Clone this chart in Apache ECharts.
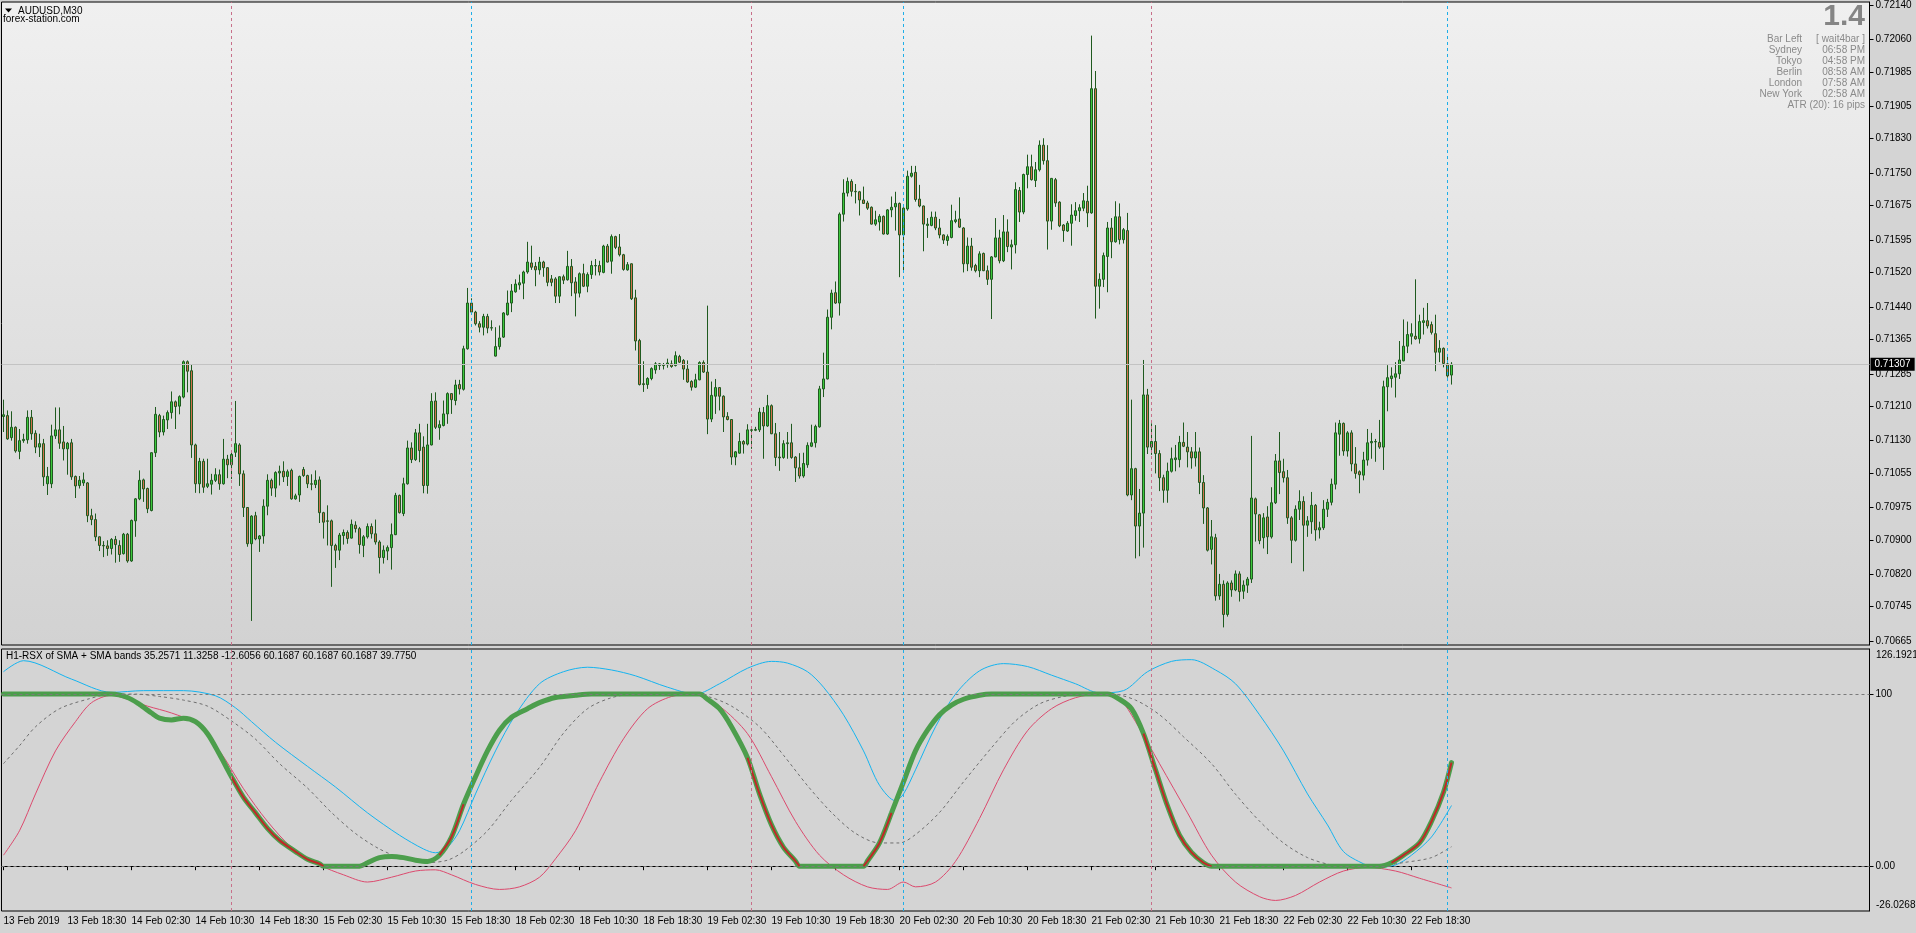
<!DOCTYPE html>
<html><head><meta charset="utf-8">
<script src="https://cdn.jsdelivr.net/npm/echarts@6/dist/echarts.min.js"></script>
<style>html,body{margin:0;padding:0;background:#d4d4d4;overflow:hidden}#chart{width:1916px;height:933px}</style>
</head><body><div id="chart"></div>
<script>
// ---- price data, in points (1 point = 0.00001) ----
const opens = [71186,71188,71137,71161,71105,71130,71132,71184,71147,71115,
71123,71030,71030,71141,71155,71127,71111,71125,71047,71026,
71032,71032,70956,70947,70907,70887,70886,70880,70901,70887,
70868,70913,70851,70944,70995,71039,71019,70968,71102,71188,
71150,71178,71195,71220,71210,71231,71313,71292,71120,71030,
71082,71024,71029,71038,71051,71030,71087,71074,71103,71120,
71053,70975,70891,70956,70902,70909,70978,71038,71020,71055,
71059,71047,71061,70995,71004,71063,71049,71030,71028,71039,
70963,70944,70944,70887,70876,70910,70917,70904,70934,70926,
70887,70907,70931,70914,70895,70859,70874,70882,70912,71003,
70961,71030,71113,71086,71148,71115,71026,71120,71222,71160,
71165,71192,71239,71223,71260,71249,71343,71449,71428,71401,
71393,71418,71391,71326,71348,71370,71422,71449,71475,71491,
71495,71521,71542,71534,71526,71544,71531,71505,71505,71465,
71510,71503,71534,71498,71472,71517,71488,71515,71535,71536,
71520,71581,71546,71603,71579,71561,71526,71540,71461,71362,
71262,71260,71274,71294,71304,71306,71306,71308,71304,71325,
71316,71296,71267,71254,71271,71311,71289,71180,71233,71253,
71233,71186,71179,71092,71101,71128,71122,71155,71154,71155,
71195,71164,71211,71146,71092,71091,71123,71125,71092,71067,
71048,71074,71117,71125,71162,71250,71273,71416,71473,71449,
71655,71704,71731,71708,71707,71688,71681,71671,71632,71637,
71650,71609,71665,71672,71680,71607,71667,71743,71752,71690,
71674,71629,71629,71648,71623,71607,71594,71601,71638,71644,
71623,71540,71581,71536,71524,71564,71524,71504,71556,71600,
71547,71614,71579,71584,71710,71660,71747,71765,71733,71758,
71815,71779,71639,71735,71683,71630,71616,71634,71652,71663,
71669,71685,71658,71946,71488,71504,71557,71623,71591,71649,
71596,71617,71004,71065,70932,70962,71236,71115,71128,71100,
71044,71015,71059,71086,71086,71126,71115,71104,71090,71104,
71033,70974,70878,70905,70770,70797,70727,70800,70784,70821,
70781,70795,70809,70995,70958,70905,70953,70907,70986,71083,
71058,71044,70951,70899,70971,70989,70934,70942,70980,70923,
70928,70971,70987,71029,71145,71170,71106,71148,71076,71058,
71050,71085,71125,71127,71126,71115,71255,71274,71277,71285,
71315,71349,71372,71372,71366,71404,71408,71399,71378,71335,
71344,71308,71282];
const highs = [71225,71200,71198,71163,71157,71146,71200,71201,71154,71146,
71134,71069,71167,71207,71207,71164,71127,71134,71049,71048,
71056,71034,70972,70961,70908,70897,70899,70904,70909,70899,
70916,70916,70947,70997,71061,71042,71021,71103,71208,71192,
71188,71200,71244,71223,71235,71316,71316,71306,71123,71090,
71088,71088,71053,71066,71063,71134,71097,71106,71222,71124,
71061,70976,70957,70965,70911,70994,71052,71042,71059,71072,
71082,71063,71065,71007,71049,71069,71051,71052,71061,71047,
70965,70980,70947,70891,70916,70924,70922,70947,70943,70930,
70911,70938,70938,70947,70899,70887,70887,70938,71009,71005,
71044,71130,71126,71157,71169,71140,71169,71240,71242,71177,
71223,71242,71240,71271,71271,71350,71484,71460,71431,71407,
71424,71424,71409,71393,71397,71428,71478,71493,71504,71515,
71524,71591,71582,71544,71556,71547,71532,71514,71509,71511,
71515,71570,71551,71509,71520,71540,71520,71547,71551,71547,
71584,71586,71608,71605,71609,71563,71544,71541,71480,71366,
71314,71277,71300,71312,71310,71310,71320,71316,71337,71329,
71319,71316,71270,71285,71314,71316,71443,71267,71273,71254,
71235,71196,71180,71106,71148,71131,71168,71162,71162,71206,
71208,71236,71214,71171,71150,71131,71150,71169,71094,71101,
71102,71126,71167,71167,71257,71334,71434,71480,71499,71659,
71736,71740,71736,71725,71709,71719,71686,71673,71663,71655,
71652,71667,71696,71707,71682,71671,71756,71767,71767,71723,
71675,71646,71661,71661,71644,71608,71608,71677,71663,71694,
71625,71601,71600,71540,71569,71566,71536,71558,71646,71619,
71653,71643,71596,71729,71718,71749,71793,71793,71776,71826,
71831,71815,71739,71739,71685,71632,71639,71678,71683,71678,
71704,71721,72069,71987,71518,71566,71637,71646,71685,71680,
71623,71658,71225,71067,71018,71317,71250,71170,71166,71108,
71051,71079,71114,71120,71141,71172,71150,71115,71150,71114,
71050,70976,70946,70914,70821,70806,70804,70806,70829,70827,
70806,70814,71141,70998,70960,70962,70978,71022,71099,71150,
71088,71062,70955,70980,71015,71001,70955,71011,70983,70942,
70992,70995,71042,71172,71178,71172,71152,71154,71115,71061,
71104,71157,71148,71134,71178,71269,71305,71300,71312,71361,
71411,71406,71402,71504,71422,71438,71449,71406,71422,71363,
71346,71331,71312];
const lows = [71150,71132,71130,71102,71087,71125,71123,71132,71101,71092,
71025,71004,71020,71134,71111,71084,71051,71039,70997,71019,
71025,70941,70934,70897,70874,70860,70863,70866,70847,70849,
70866,70847,70849,70907,70992,70988,70962,70966,71092,71138,
71142,71157,71181,71157,71191,71228,71242,71090,71009,71008,
71009,71020,71005,71034,71016,71028,71043,71041,71092,71025,
70953,70884,70712,70899,70872,70891,70957,71002,70999,71026,
71034,71025,70993,70993,70988,71046,71020,71015,71020,70939,
70903,70887,70791,70835,70853,70889,70891,70903,70917,70868,
70860,70903,70903,70889,70822,70845,70853,70831,70911,70961,
70955,71028,71078,71083,71080,71008,71007,71119,71157,71132,
71163,71169,71192,71212,71237,71246,71341,71424,71397,71381,
71374,71379,71385,71325,71341,71368,71420,71428,71473,71480,
71458,71517,71526,71488,71515,71510,71488,71488,71449,71449,
71493,71501,71465,71418,71462,71486,71474,71505,71513,71513,
71518,71543,71517,71574,71557,71524,71524,71456,71339,71258,
71243,71250,71270,71285,71294,71295,71299,71299,71302,71310,
71271,71264,71246,71252,71270,71287,71145,71173,71192,71200,
71150,71177,71074,71073,71100,71100,71119,71111,71152,71150,
71088,71162,71145,71071,71060,71088,71088,71088,71034,71042,
71044,71067,71115,71114,71160,71231,71272,71388,71447,71420,
71638,71696,71696,71680,71652,71679,71665,71631,71628,71617,
71608,71607,71648,71617,71509,71524,71663,71740,71684,71671,
71569,71600,71627,71618,71599,71586,71582,71599,71634,71623,
71520,71523,71524,71520,71509,71523,71491,71412,71555,71541,
71544,71567,71527,71564,71637,71655,71715,71733,71718,71754,
71770,71573,71619,71672,71625,71591,71614,71582,71640,71637,
71662,71625,71656,71413,71436,71486,71474,71553,71589,71585,
71587,71001,70992,70857,70862,70882,71099,71097,71054,71013,
70986,70986,71056,71059,71068,71115,71068,71065,71070,71006,
70937,70873,70843,70759,70761,70697,70722,70768,70781,70757,
70763,70777,70800,70896,70890,70880,70867,70903,70983,71006,
71033,70937,70846,70896,70946,70827,70907,70914,70898,70903,
70923,70953,70980,71017,71095,71095,71093,71059,71042,71008,
71038,71072,71088,71081,71111,71062,71198,71253,71230,71273,
71314,71333,71353,71364,71355,71376,71390,71376,71291,71312,
71300,71276,71260];
const closes = [71190,71134,71161,71106,71130,71133,71184,71146,71115,71123,
71046,71047,71141,71155,71124,71111,71124,71046,71025,71038,
71039,70956,70947,70907,70887,70886,70880,70901,70889,70866,
70913,70851,70945,70995,71038,71018,70972,71102,71191,71150,
71179,71195,71220,71209,71232,71313,71291,71120,71030,71082,
71022,71030,71038,71051,71030,71087,71074,71098,71123,71053,
70975,70891,70955,70902,70909,70978,71038,71020,71056,71059,
71046,71058,70995,71002,71047,71049,71030,71029,71038,70963,
70941,70943,70887,70876,70911,70917,70903,70936,70926,70889,
70907,70931,70914,70895,70859,70876,70882,70912,71003,70963,
71030,71113,71086,71148,71107,71026,71120,71221,71161,71167,
71192,71239,71225,71259,71250,71343,71449,71428,71401,71393,
71418,71391,71392,71348,71368,71426,71449,71477,71493,71496,
71521,71544,71532,71526,71544,71531,71497,71497,71465,71510,
71502,71534,71496,71472,71517,71488,71515,71536,71536,71521,
71581,71544,71603,71578,71561,71527,71538,71459,71361,71260,
71260,71274,71297,71308,71308,71304,71310,71302,71327,71312,
71296,71266,71254,71271,71311,71289,71180,71235,71253,71233,
71185,71179,71092,71104,71128,71122,71155,71154,71156,71196,
71164,71211,71146,71091,71090,71123,71125,71091,71067,71048,
71077,71119,71125,71163,71250,71273,71416,71472,71449,71655,
71704,71731,71708,71707,71688,71680,71669,71632,71642,71650,
71609,71665,71671,71680,71607,71669,71743,71750,71689,71674,
71632,71632,71648,71623,71607,71595,71603,71640,71642,71625,
71540,71581,71532,71524,71563,71524,71504,71556,71600,71547,
71614,71580,71584,71712,71660,71747,71765,71735,71758,71815,
71779,71639,71738,71681,71628,71617,71634,71653,71663,71670,
71686,71658,71946,71488,71504,71559,71623,71591,71649,71596,
71619,71004,71065,70932,70962,71236,71115,71128,71100,71044,
71015,71059,71088,71090,71126,71117,71104,71090,71104,71033,
70974,70876,70907,70770,70797,70727,70800,70784,70821,70780,
70795,70809,70997,70960,70898,70951,70907,70986,71083,71056,
71044,70951,70899,70971,70989,70934,70944,70980,70923,70928,
70971,70987,71029,71148,71170,71106,71148,71076,71054,71051,
71085,71125,71128,71128,71115,71255,71276,71280,71285,71317,
71349,71376,71378,71366,71406,71408,71396,71381,71335,71344,
71309,71280,71307];
const POINT = 0.00001;
const currentPrice = 0.71307;
const priceTicks = [0.72140,0.72060,0.71985,0.71905,0.71830,0.71750,0.71675,0.71595,0.71520,0.71440,
  0.71365,0.71285,0.71210,0.71130,0.71055,0.70975,0.70900,0.70820,0.70745,0.70665];
const priceMin = 0.706562, priceMax = 0.721469;

// ---- indicator data: [bar index, value] ----
const rsx = [[0,100],[27,100],[31,98],[34,94],[37,89],[39,86],[42,85],[45,86],[48,84],[51,77],[54,65],[57,52],[60,40],[63,31],[66,22],[69,15],[73,8.5],[76,4],[79,1.4],[80,0],[89,0],[91,2],[94,5],[97,5.7],[100,5],[103,3.5],[106,2.8],[109,6.4],[112,17],[115,36],[118,52],[121,67],[124,79],[127,86.5],[131,91.5],[134,95],[138,98],[143,99.3],[147,100],[174,100],[176,97],[179,91.5],[182,81],[186,63],[189,42],[192,24],[195,11],[198,3],[199,0],[215,0],[216,3],[219,13.5],[222,31],[225,49],[228,67],[231,79],[234,88],[237,93.6],[240,97],[244,99.3],[247,100],[276,100],[279,97],[282,91.5],[285,77],[288,56],[291,35],[294,18],[297,8],[300,2],[302,0],[344,0],[347,2],[350,6.4],[354,13.5],[357,26],[360,43],[362,60.17]];
const upperBand = [[0,113],[5,119.4],[17,108.7],[27,101],[35,102],[45,102],[53,99],[58,92],[62,84],[68,72],[76,58],[83,46],[91,31],[99,18],[105,10],[108,7.8],[111,11],[114,20.6],[118,42],[123,67],[128,88],[134,106],[140,113],[146,115.6],[152,114],[158,110.6],[166,104],[173,100],[179,106],[186,115],[192,119],[196,118],[201,113],[205,104],[210,88],[215,67],[219,47],[223,38],[225,42],[228,56],[233,81],[238,100],[244,113.5],[250,117.7],[256,116],[262,111],[268,106],[274,100.7],[280,102],[286,113],[292,119],[297,120],[303,114],[308,106],[314,88],[320,67],[326,42],[331,24],[335,8.5],[340,1.4],[343,-0.7],[348,0.7],[352,6.4],[357,17],[362,35.26]];
const lowerBand = [[0,6.4],[4,20.6],[8,42],[13,67],[18,84],[22,95],[27,99.3],[31,97],[36,93],[42,89],[48,83],[54,67],[60,45],[66,26],[72,11],[79,0.7],[85,-5],[91,-9.2],[97,-6.4],[103,-2.8],[108,-2.1],[112,-5],[118,-10.6],[124,-13.5],[129,-12],[134,-6.4],[138,4.3],[143,20.6],[149,49],[155,74],[161,91.5],[167,98.6],[173,100],[179,93],[186,77],[192,52],[198,26],[204,6.4],[210,-5],[216,-12],[221,-13.5],[225,-9.2],[228,-12],[233,-9.2],[238,2.8],[244,27.7],[250,56],[256,78.7],[262,91.5],[268,97.9],[274,100],[279,97],[283,84],[289,59.6],[296,31],[302,6.4],[308,-9.2],[314,-17.7],[318,-19.9],[323,-17],[329,-9.2],[335,-2.8],[341,-0.7],[348,-2.8],[354,-7],[362,-12.61]];
const midSma = [[0,59.6],[4,70],[8,81],[14,91.5],[21,97],[27,100],[33,100],[39,98.6],[45,96.5],[51,93],[57,84.4],[63,73.8],[69,59.6],[76,45.4],[82,31.2],[88,19],[94,10],[100,4.3],[106,2.1],[111,3.5],[115,8.5],[121,20.6],[127,38.3],[134,57.4],[140,77.3],[146,91.5],[152,97.9],[158,100],[170,100],[176,98.6],[182,93],[189,81],[195,64.5],[201,46.8],[207,31.2],[213,19.1],[219,13.5],[224,13.5],[228,18.4],[234,31.2],[240,49],[247,68.8],[253,84.4],[259,94.3],[265,98.6],[271,100],[277,100],[283,96.5],[289,88],[295,75.2],[302,59.6],[308,41.8],[314,26.2],[320,13.5],[326,5],[332,0.7],[338,-0.7],[344,0],[350,2.1],[357,5],[362,11.33]];
const rsxRedRanges = [[56,80],[108,116],[185,199],[215,224],[285,302],[347,362]];
const indLevels = [100, 0];
const indMax = 126.1921, indMin = -26.0268;
const redVLines = [57, 187, 287];
const cyanVLines = [117, 225, 361];

// ---- texts ----
const symbolTitle = 'AUDUSD,M30';
const siteText = 'forex-station.com';
const bigNumber = '1.4';
const infoLabels = ['Bar Left','Sydney','Tokyo','Berlin','London','New York'];
const infoValues = ['[ wait4bar ]','06:58 PM','04:58 PM','08:58 AM','07:58 AM','02:58 AM'];
const atrText = 'ATR (20): 16 pips';
const indTitle = 'H1-RSX of SMA + SMA bands 35.2571 11.3258 -12.6056 60.1687 60.1687 60.1687 39.7750';

// ---- categories (M30 bars, weekend skipped) ----
const N_BARS = opens.length;
const N_SLOTS = 467;
const MONTHS = ['Jan','Feb','Mar','Apr','May','Jun','Jul','Aug','Sep','Oct','Nov','Dec'];
const cats = [];
let t = Date.UTC(2019, 1, 13, 10, 30);
const p2 = n => (n < 10 ? '0' : '') + n;
for (let i = 0; i < N_SLOTS; i++) {
  const d = new Date(t);
  cats.push(i === 0 ? d.getUTCDate() + ' ' + MONTHS[d.getUTCMonth()] + ' ' + d.getUTCFullYear()
    : d.getUTCDate() + ' ' + MONTHS[d.getUTCMonth()] + ' ' + p2(d.getUTCHours()) + ':' + p2(d.getUTCMinutes()));
  t += 1800000;
  if (new Date(t).getUTCDay() === 6) t += 2 * 86400000;
}
const labelFn = idx => idx % 16 === 0 && idx < N_BARS;

const FONT = '"Liberation Sans", Arial, sans-serif';
const candleData = opens.map((o, i) => [o * POINT, closes[i] * POINT, lows[i] * POINT, highs[i] * POINT]);

const vLine = (idx, color) => ({ xAxis: cats[idx], lineStyle: { color: color, type: [3, 3], width: 1 }, label: { show: false } });
const vLines = redVLines.map(i => vLine(i, '#c8708a')).concat(cyanVLines.map(i => vLine(i, '#1eaee8')));

const series = [
  {
    type: 'line', xAxisIndex: 0, yAxisIndex: 0, data: [[N_BARS - 1, currentPrice]], symbol: 'none', silent: true,
    lineStyle: { opacity: 0 }, z: 1,
    markLine: {
      symbol: 'none', silent: true, animation: false, precision: 5,
      data: [
        { yAxis: currentPrice, lineStyle: { color: '#c3c3c3', type: 'solid', width: 1 },
          label: { show: true, position: 'end', distance: 1, formatter: currentPrice.toFixed(5), backgroundColor: '#000', color: '#fff',
            fontFamily: FONT, fontSize: 10, padding: [2, 4, 1, 4] } }
      ].concat(vLines)
    }
  },
  {
    type: 'candlestick', xAxisIndex: 0, yAxisIndex: 0, data: candleData, barWidth: 2, z: 3,
    itemStyle: { color: '#3cc83c', color0: '#d0704c', borderColor: '#1f5a1f', borderColor0: '#1f5a1f', borderWidth: 1 }
  },
  { name: 'upper', type: 'line', xAxisIndex: 1, yAxisIndex: 1, data: upperBand, smooth: 0.3, symbol: 'none',
    lineStyle: { color: '#14b4f0', width: 1 },
    markLine: { symbol: 'none', silent: true, animation: false, precision: 4,
      data: indLevels.map(v => ({ yAxis: v, lineStyle: { color: '#7a7a7a', type: [3, 3], width: 1 }, label: { show: false } })).concat(vLines) } },
  { name: 'lower', type: 'line', xAxisIndex: 1, yAxisIndex: 1, data: lowerBand, smooth: 0.3, symbol: 'none',
    lineStyle: { color: '#dc4a6e', width: 1 } },
  { name: 'mid', type: 'line', xAxisIndex: 1, yAxisIndex: 1, data: midSma, smooth: 0.3, symbol: 'none',
    lineStyle: { color: '#6e6e6e', width: 1, type: [3, 3] } },
  { name: 'rsx', type: 'line', xAxisIndex: 1, yAxisIndex: 1, data: rsx, smooth: 0.3, symbol: 'none',
    lineStyle: { color: '#4c9e4c', width: 5, cap: 'round' } }
];
rsxRedRanges.forEach(r => {
  series.push({ type: 'line', xAxisIndex: 1, yAxisIndex: 1, smooth: 0.3, symbol: 'none',
    data: rsx.filter(p => p[0] >= r[0] && p[0] <= r[1]), lineStyle: { color: '#c02828', width: 2 } });
});

const graphic = [
  { type: 'polygon', shape: { points: [[5, 8.5], [12, 8.5], [8.5, 12.5]] }, style: { fill: '#000' } },
  { type: 'text', x: 18, y: 11, style: { text: symbolTitle, font: '10px ' + FONT, fill: '#000', verticalAlign: 'middle' } },
  { type: 'text', x: 3, y: 19, style: { text: siteText, font: '10px ' + FONT, fill: '#000', verticalAlign: 'middle' } },
  { type: 'text', x: 1865, y: 17, style: { text: bigNumber, font: 'bold 30px ' + FONT, fill: '#858585', align: 'right', verticalAlign: 'middle' } },
  { type: 'text', x: 1865, y: 105, style: { text: atrText, font: '10px ' + FONT, fill: '#8a8a8a', align: 'right', verticalAlign: 'middle' } },
  { type: 'text', x: 6, y: 656, style: { text: indTitle, font: '10px ' + FONT, fill: '#000', verticalAlign: 'middle' } },
  { type: 'text', x: 1876, y: 655, style: { text: indMax.toFixed(4), font: '10px ' + FONT, fill: '#000', verticalAlign: 'middle' } },
  { type: 'text', x: 1876, y: 905, style: { text: indMin.toFixed(4), font: '10px ' + FONT, fill: '#000', verticalAlign: 'middle' } }
];
infoLabels.forEach((lab, k) => {
  const y = 39.5 + k * 11;
  graphic.push({ type: 'text', x: 1802, y: y, style: { text: lab, font: '10px ' + FONT, fill: '#8a8a8a', align: 'right', verticalAlign: 'middle' } });
  graphic.push({ type: 'text', x: 1865, y: y, style: { text: infoValues[k], font: '10px ' + FONT, fill: '#8a8a8a', align: 'right', verticalAlign: 'middle' } });
});

const chart = echarts.init(document.getElementById('chart'), null, { renderer: 'canvas' });
chart.setOption({
  animation: false,
  backgroundColor: '#d4d4d4',
  grid: [
    { left: 1.5, top: 1, width: 1868, height: 644, show: true, borderColor: '#000', borderWidth: 1,
      backgroundColor: new echarts.graphic.LinearGradient(0, 0, 0, 1, [{ offset: 0, color: '#f0f0f0' }, { offset: 1, color: '#d2d2d2' }]) },
    { left: 1.5, top: 649, width: 1868, height: 262, show: true, borderColor: '#000', borderWidth: 1, backgroundColor: '#d4d4d4' }
  ],
  xAxis: [
    { type: 'category', gridIndex: 0, data: cats, boundaryGap: true, show: false },
    { type: 'category', gridIndex: 1, data: cats, boundaryGap: true,
      axisLine: { show: true, lineStyle: { color: '#000' } },
      axisTick: { show: true, alignWithLabel: true, interval: labelFn, length: 4, lineStyle: { color: '#000' } },
      axisLabel: { interval: labelFn, align: 'left', color: '#000', fontSize: 10, fontFamily: FONT, margin: 5 },
      splitLine: { show: false } }
  ],
  yAxis: [
    { type: 'value', gridIndex: 0, position: 'right', min: priceMin, max: priceMax, splitLine: { show: false },
      axisLine: { show: true, lineStyle: { color: '#000' } },
      axisTick: { show: true, customValues: priceTicks, length: 4, lineStyle: { color: '#000' } },
      axisLabel: { customValues: priceTicks, formatter: v => v.toFixed(5), color: '#000', fontSize: 10, fontFamily: FONT, margin: 6 } },
    { type: 'value', gridIndex: 1, position: 'right', min: indMin, max: indMax, splitLine: { show: false },
      axisLine: { show: true, lineStyle: { color: '#000' } },
      axisTick: { show: true, customValues: indLevels, length: 4, lineStyle: { color: '#000' } },
      axisLabel: { customValues: indLevels, formatter: v => (v === 0 ? '0.00' : String(v)), color: '#000', fontSize: 10, fontFamily: FONT, margin: 6 } }
  ],
  series: series,
  graphic: graphic
});
</script></body></html>
